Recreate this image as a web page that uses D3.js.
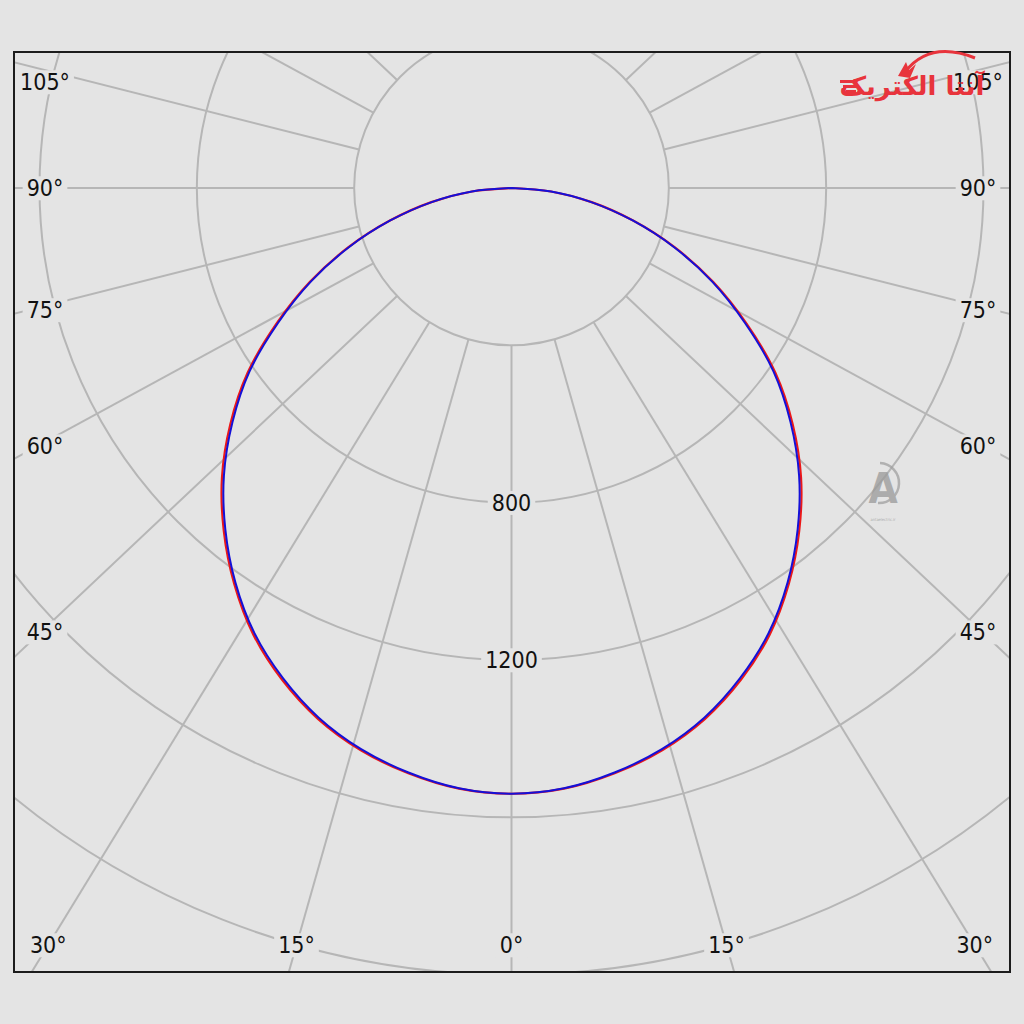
<!DOCTYPE html>
<html>
<head>
<meta charset="utf-8">
<script src="https://cdn.jsdelivr.net/npm/d3@7"></script>
<style>
    body { margin: 0; background: #e4e4e4; }
    svg text { font-family: "DejaVu Sans Condensed", "DejaVu Sans", sans-serif; font-stretch: condensed; }
</style>
</head>
<body>
<svg id="svg-polar" width="1024" height="1024"></svg>
<script>
// gamma angles (deg) of one half plane, mirrored for the other half
const gammaAngles = [0, 5, 10, 15, 20, 25, 30, 35, 40, 45, 50, 55, 60, 65, 70, 75, 80, 85, 90];
// luminous intensity in cd, C0-C180 (red) and C90-C270 (blue)
const intensityC0 = [1540, 1533, 1511, 1480, 1437, 1380, 1312, 1229, 1138, 1041, 933, 819, 690, 566, 442, 320, 207, 101, 0];
const intensityC90 = [1540, 1532, 1509, 1477, 1433, 1375, 1307, 1224, 1132, 1034, 926, 813, 685, 563, 440, 319, 206, 101, 0];
// grid
const ringValues = [400, 800, 1200, 1600, 2000, 2400];
const ringLabels = [800, 1200];
const gridAngles = [-180, -165, -150, -135, -120, -105, -90, -75, -60, -45, -30, -15, 0,
    15, 30, 45, 60, 75, 90, 105, 120, 135, 150, 165, 180];
const angleLabels = [-105, -90, -75, -60, -45, -30, -15, 0, 15, 30, 45, 60, 75, 90, 105];

let svg = d3.select("#svg-polar"),
    bg = "#e4e4e4",
    gridColor = "#b6b6b6",
    frame = {left: 14, top: 52, right: 1010, bottom: 972},
    cx = 511.5,
    cy = 188,
    r = d3.scaleLinear().domain([0, 2400]).range([0, 944]),
    rad = d3.scaleLinear().domain([0, 180]).range([0, Math.PI]),
    gridAspect = 1.06; // the angle rays of the original grid are slightly stretched sideways

svg.append("rect")
    .attr("width", 1024)
    .attr("height", 1024)
    .attr("fill", bg);

svg.append("defs").append("clipPath")
    .attr("id", "frame-clip")
    .append("rect")
    .attr("x", frame.left)
    .attr("y", frame.top)
    .attr("width", frame.right - frame.left)
    .attr("height", frame.bottom - frame.top);

let grid = svg.append("g")
    .attr("class", "grid")
    .attr("clip-path", "url(#frame-clip)");

// *** Rings
grid.selectAll("circle.ring")
    .data(ringValues)
    .enter().append("circle")
    .attr("class", "ring")
    .attr("cx", cx)
    .attr("cy", cy)
    .attr("r", d => r(d))
    .attr("fill", "none")
    .attr("stroke", gridColor)
    .attr("stroke-width", 2);

// *** Rays (from the first ring outwards)
function rayDir(a) {
    let ux = gridAspect * Math.sin(rad(a)),
        uy = Math.cos(rad(a)),
        n = Math.hypot(ux, uy);
    return [ux / n, uy / n];
}

grid.selectAll("line.ray")
    .data(gridAngles)
    .enter().append("line")
    .attr("class", "ray")
    .attr("x1", d => cx + r(ringValues[0]) * rayDir(d)[0])
    .attr("y1", d => cy + r(ringValues[0]) * rayDir(d)[1])
    .attr("x2", d => cx + 1600 * rayDir(d)[0])
    .attr("y2", d => cy + 1600 * rayDir(d)[1])
    .attr("stroke", gridColor)
    .attr("stroke-width", 2);

// *** Labels with a background box that cuts the grid lines
function addLabel(parent, x, y, txt, size) {
    let g = parent.append("g");
    let t = g.append("text")
        .attr("x", x)
        .attr("y", y)
        .attr("dy", "0.36em")
        .attr("text-anchor", "middle")
        .attr("font-size", size)
        .attr("fill", "#111")
        .text(txt);
    let b = t.node().getBBox();
    g.insert("rect", "text")
        .attr("x", b.x - 4)
        .attr("y", b.y + 1)
        .attr("width", b.width + 8)
        .attr("height", b.height - 2)
        .attr("fill", bg);
}

let labels = svg.append("g").attr("class", "labels");

ringLabels.forEach(v => addLabel(labels, cx, cy + r(v), v, 23));

let inset = {left: 45, right: 978, bottom: 945, top: 82};
angleLabels.forEach(a => {
    let u = rayDir(a),
        ts = [];
    if (u[0] > 1e-6) ts.push((inset.right - cx) / u[0]);
    if (u[0] < -1e-6) ts.push((inset.left - cx) / u[0]);
    if (u[1] > 1e-6) ts.push((inset.bottom - cy) / u[1]);
    let t = d3.min(ts),
        x = cx + t * u[0],
        y = Math.max(cy + t * u[1], inset.top);
    // side labels sit a little below their ray
    if (Math.abs(a) > 30 && Math.abs(a) < 90) y += 4;
    addLabel(labels, x, y, Math.abs(a) + "°", 23);
});

// *** Frame
svg.append("rect")
    .attr("x", frame.left)
    .attr("y", frame.top)
    .attr("width", frame.right - frame.left)
    .attr("height", frame.bottom - frame.top)
    .attr("fill", "none")
    .attr("stroke", "#1c1c1c")
    .attr("stroke-width", 2);

// *** Intensity curves
function fullPlane(values) {
    let left = gammaAngles.map((a, i) => ({a: -a, v: values[i]})).reverse(),
        right = gammaAngles.map((a, i) => ({a: a, v: values[i]}));
    return left.concat(right.slice(1));
}

let line = d3.line()
    .x(d => cx + r(d.v) * Math.sin(rad(d.a)))
    .y(d => cy + r(d.v) * Math.cos(rad(d.a)))
    .curve(d3.curveCatmullRom.alpha(0.5));

svg.append("path")
    .datum(fullPlane(intensityC0))
    .attr("class", "curve-c0")
    .attr("d", line)
    .attr("fill", "none")
    .attr("stroke", "#ec1818")
    .attr("stroke-width", 2.2)
    .attr("stroke-linejoin", "round");

svg.append("path")
    .datum(fullPlane(intensityC90))
    .attr("class", "curve-c90")
    .attr("d", line)
    .attr("fill", "none")
    .attr("stroke", "#1410d8")
    .attr("stroke-width", 2)
    .attr("stroke-linejoin", "round");

// *** Watermark and logo
let wm = svg.append("g").attr("opacity", 0.75);
wm.append("path")
    .attr("d", "M 880 463 A 18 18 0 1 1 878 503")
    .attr("fill", "none")
    .attr("stroke", "#a0a0a0")
    .attr("stroke-width", 2.5);
wm.append("text")
    .attr("x", 883)
    .attr("y", 503)
    .attr("text-anchor", "middle")
    .attr("font-size", 42)
    .attr("font-weight", "bold")
    .attr("fill", "#9a9a9a")
    .text("A");
wm.append("text")
    .attr("x", 883)
    .attr("y", 521)
    .attr("text-anchor", "middle")
    .attr("font-size", 4)
    .attr("fill", "#9a9a9a")
    .text("antaelectric.ir");

let logo = svg.append("g");
logo.append("path")
    .attr("d", "M 905 72 Q 930 40 975 58")
    .attr("fill", "none")
    .attr("stroke", "#e8343c")
    .attr("stroke-width", 3);
logo.append("path")
    .attr("d", "M 898 76 L 906 62 L 909 70 L 916 64 L 910 78 Z")
    .attr("fill", "#e8343c");
logo.append("text")
    .attr("x", 912)
    .attr("y", 95)
    .attr("text-anchor", "middle")
    .attr("font-size", 26)
    .attr("font-weight", "bold")
    .attr("fill", "#e8343c")
    .style("font-family", "'DejaVu Sans', sans-serif")
    .style("font-stretch", "normal")
    .text("آنتا الکتریک");
[0, 1, 2].forEach(i => logo.append("rect")
    .attr("x", 840 + i * 3)
    .attr("y", 80 + i * 5)
    .attr("width", 16 - i * 3)
    .attr("height", 3)
    .attr("fill", "#e8343c"));
</script>
</body>
</html>
